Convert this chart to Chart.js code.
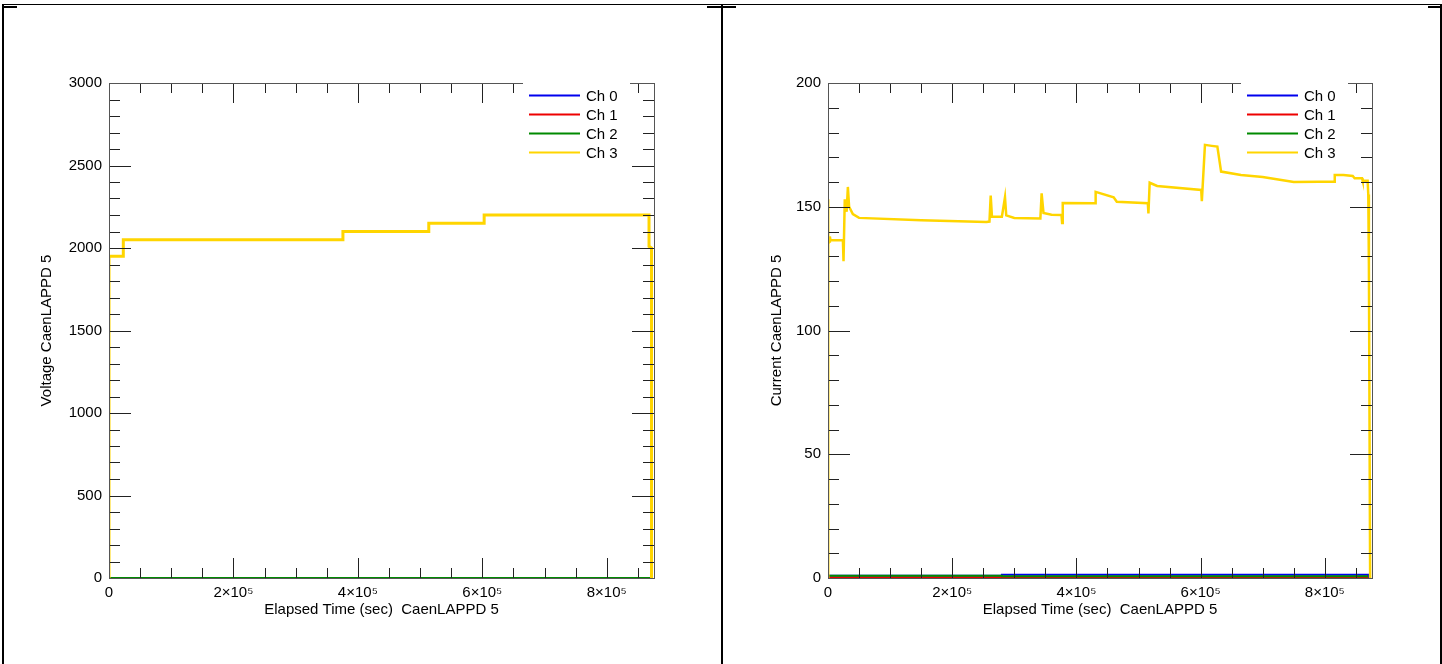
<!DOCTYPE html>
<html>
<head>
<meta charset="utf-8">
<script src="https://cdn.jsdelivr.net/npm/chart.js@4.4.1/dist/chart.umd.min.js"></script>
<style>
  body { margin:0; background:#fff; width:1442px; height:664px; overflow:hidden; position:relative; }
  .ln { position:absolute; background:#000; }
  #vwrap { position:absolute; left:0; top:0; width:722px; height:664px; }
  #cwrap { position:absolute; left:722px; top:0; width:720px; height:664px; }
</style>
</head>
<body>
<div id="vwrap"><canvas id="voltChart" width="722" height="664"></canvas></div>
<div id="cwrap"><canvas id="currChart" width="720" height="664"></canvas></div>

<!-- table cell borders -->
<div class="ln" style="left:3px;top:4px;width:1439px;height:1px"></div>
<div class="ln" style="left:2px;top:4px;width:2px;height:660px"></div>
<div class="ln" style="left:721px;top:4px;width:2px;height:660px"></div>
<div class="ln" style="left:1440px;top:4px;width:2px;height:660px"></div>
<div class="ln" style="left:3px;top:6px;width:14px;height:2px"></div>
<div class="ln" style="left:707px;top:6px;width:29px;height:2px"></div>
<div class="ln" style="left:1428px;top:6px;width:14px;height:2px"></div>

<script>
// ---- data ----
const channels = ['Ch 0', 'Ch 1', 'Ch 2', 'Ch 3'];
const xMax = 876000;
const xTickValues = [0, 200000, 400000, 600000, 800000];
const xTickLabels = ['0', '2×10⁵', '4×10⁵', '6×10⁵', '8×10⁵'];
const xMinorStep = 50000;

// voltage panel
const voltYLabels = [0, 500, 1000, 1500, 2000, 2500, 3000];
const voltTime = [0, 0, 23000, 23000, 376000, 376000, 514000, 514000, 603000, 603000, 868000, 868000, 872000, 872000];
const voltCh3  = [0, 1950, 1950, 2050, 2050, 2100, 2100, 2150, 2150, 2200, 2200, 2010, 2000, 0];
const voltFlatTime = [0, 872000];
const voltCh0 = [0, 0];
const voltCh1 = [0, 0];
const voltCh2 = [0, 0];

// current panel
const currYLabels = [0, 50, 100, 150, 200];
const currTime = [0, 200, 500, 2000, 3000, 4000, 24000, 25000, 27000, 30000, 32000, 34000, 40000, 50000,
  150000, 255000, 260000, 262000, 264000, 280000, 285000, 287000, 300000, 342000, 344000, 347000, 360000,
  376000, 377000, 378000, 430000, 431000, 460000, 465000, 515000, 516000, 518000, 530000, 601000, 602000,
  607000, 618000, 627000, 633000, 665000, 700000, 730000, 750000, 791000, 815000, 816000, 830000, 845000,
  848000, 860000, 861000, 869000, 870000, 871000, 873000];
const currCh3 = [0, 153, 135, 136, 138, 136.5, 136.5, 128, 153, 148, 158, 150, 147, 145.5,
  144.5, 143.8, 144, 154.5, 146, 146, 153.8, 146.5, 145.5, 145.3, 155.4, 147.5, 146.8,
  146.7, 143.4, 151.5, 151.4, 156, 153.8, 152, 151.4, 147.3, 159.7, 158.4, 156.8, 152.3,
  175, 174.6, 174.3, 164.2, 162.8, 162, 160.8, 160, 160.1, 160.1, 162.8, 162.8, 162.4,
  161.5, 161.5, 160.5, 160.5, 155, 127, 0];
const currCh0Time = [0, 280000, 280000, 870000, 870000];
const currCh0 = [0.9, 0.9, 1.3, 1.3, 0];
const currCh1Time = [0, 870000];
const currCh1 = [0.2, 0.3];
const currCh2Time = [0, 280000, 280000, 870000];
const currCh2 = [0.9, 0.9, 0.7, 0.7];

// ---- styles ----
const chColors = ['#0000ee', '#ee0000', '#008a00', '#ffd500'];
const FONT = '"Liberation Sans", Arial, Helvetica, sans-serif';

function pts(xs, ys) { return xs.map((x, i) => ({x: x, y: ys[i]})); }

const frameTicks = {
  id: 'frameTicks',
  afterDraw(chart, args, o) {
    const ctx = chart.ctx, a = chart.chartArea;
    const sx = chart.scales.x, sy = chart.scales.y;
    ctx.save();
    ctx.strokeStyle = '#222';
    ctx.lineWidth = 1;
    sx.ticks.forEach(t => {
      const v = Math.round(t.value);
      const len = xTickValues.includes(v) ? 20 : 10;
      const px = Math.round(sx.getPixelForValue(v)) + 0.5;
      ctx.beginPath();
      ctx.moveTo(px, a.bottom); ctx.lineTo(px, a.bottom - len);
      ctx.moveTo(px, a.top); ctx.lineTo(px, a.top + len);
      ctx.stroke();
    });
    sy.ticks.forEach(t => {
      const v = Math.round(t.value * 1000) / 1000;
      const len = o.yLabels.includes(v) ? 22 : 11;
      const py = Math.round(sy.getPixelForValue(v)) + 0.5;
      ctx.beginPath();
      ctx.moveTo(a.left, py); ctx.lineTo(a.left + len, py);
      ctx.moveTo(a.right, py); ctx.lineTo(a.right - len, py);
      ctx.stroke();
    });
    ctx.strokeStyle = '#555';
    ctx.strokeRect(Math.round(a.left) + 0.5, Math.round(a.top) + 0.5, Math.round(a.right - a.left), Math.round(a.bottom - a.top));
    // legend inside the plot, top right, on a white box that hides the frame below it
    ctx.fillStyle = '#fff';
    ctx.fillRect(a.right - 131, a.top - 1, 107, 74);
    ctx.font = '15px ' + FONT;
    ctx.textBaseline = 'middle';
    ctx.fillStyle = '#000';
    chart.data.datasets.forEach((ds, i) => {
      const y = Math.round(a.top + 12 + i * 18.9) + 0.5;
      ctx.strokeStyle = ds.borderColor;
      ctx.lineWidth = 2;
      ctx.beginPath();
      ctx.moveTo(a.right - 125, y); ctx.lineTo(a.right - 74, y);
      ctx.stroke();
      ctx.fillText(ds.label, a.right - 68, y + 1);
    });
    ctx.restore();
  }
};

function buildChart(id, cfg) {
  const series = cfg.series;
  return new Chart(document.getElementById(id), {
    type: 'line',
    data: {
      datasets: series.map((s, i) => ({
        label: channels[i],
        data: pts(s[0], s[1]),
        borderColor: chColors[i],
        borderWidth: i === 3 ? cfg.mainWidth : 2,
        pointRadius: 0,
        tension: 0,
        fill: false,
        order: 4 - i
      }))
    },
    options: {
      responsive: false,
      animation: false,
      devicePixelRatio: 1,
      layout: { padding: { left: 0, top: 83, right: cfg.padRight, bottom: 0 } },
      plugins: { legend: { display: false }, tooltip: { enabled: false }, frameTicks: { yLabels: cfg.yLabels } },
      scales: {
        x: {
          type: 'linear', min: 0, max: xMax,
          grid: { display: false, drawTicks: false }, border: { display: false },
          afterFit: s => { s.height = 86; },
          afterBuildTicks: s => {
            const t = [];
            for (let v = 0; v <= xMax; v += xMinorStep) t.push({ value: v });
            s.ticks = t;
          },
          ticks: {
            autoSkip: false, maxRotation: 0, padding: 6,
            color: '#000', font: { family: FONT, size: 15 },
            callback: v => { const k = xTickValues.indexOf(Math.round(v)); return k >= 0 ? xTickLabels[k] : ''; }
          },
          title: { display: true, text: 'Elapsed Time (sec)  CaenLAPPD 5', color: '#000',
                   font: { family: FONT, size: 15 }, padding: { top: 0, bottom: 45 } }
        },
        y: {
          type: 'linear', min: 0, max: cfg.yMax,
          grid: { display: false, drawTicks: false }, border: { display: false },
          afterFit: s => { s.width = cfg.yWidth; },
          ticks: {
            stepSize: cfg.yStep, autoSkip: false, padding: 7,
            color: '#000', font: { family: FONT, size: 15 },
            callback: v => cfg.yLabels.includes(v) ? String(v) : ''
          },
          title: { display: true, text: cfg.yTitle, color: '#000',
                   font: { family: FONT, size: 15 }, padding: { top: cfg.yTitlePad, bottom: 0 } }
        }
      }
    },
    plugins: [frameTicks]
  });
}

buildChart('voltChart', {
  series: [[voltFlatTime, voltCh0], [voltFlatTime, voltCh1], [voltFlatTime, voltCh2], [voltTime, voltCh3]],
  yMax: 3000, yStep: 100, yLabels: voltYLabels, yTitle: 'Voltage CaenLAPPD 5',
  yWidth: 109, padRight: 68, yTitlePad: 38, mainWidth: 3
});

buildChart('currChart', {
  series: [[currCh0Time, currCh0], [currCh1Time, currCh1], [currCh2Time, currCh2], [currTime, currCh3]],
  yMax: 200, yStep: 10, yLabels: currYLabels, yTitle: 'Current CaenLAPPD 5',
  yWidth: 106, padRight: 70, yTitlePad: 46, mainWidth: 2.5
});
</script>
</body>
</html>
